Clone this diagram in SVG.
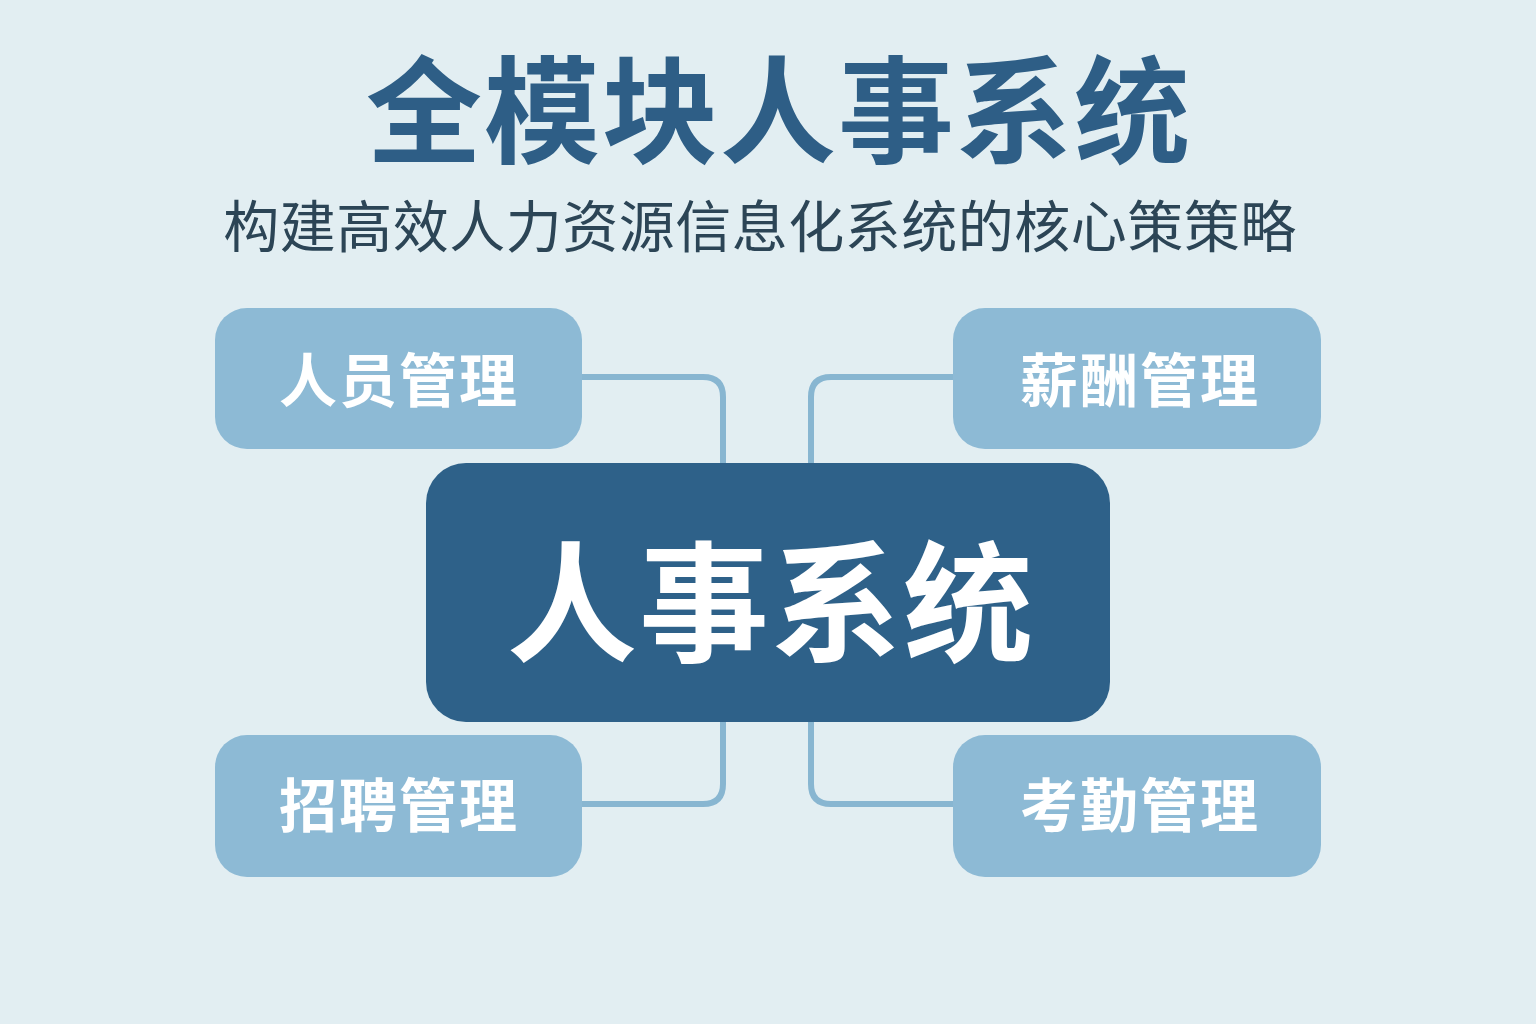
<svg xmlns="http://www.w3.org/2000/svg" width="1536" height="1024" viewBox="0 0 1536 1024">
  <style>
    .title { font-family: "Noto Sans CJK SC", "Noto Sans", sans-serif; font-weight: 700; fill: #2e5e86; }
    .subtitle { font-family: "Noto Sans CJK SC", "Noto Sans", sans-serif; font-weight: 400; fill: #2c4556; }
    .module rect { fill: #8dbad5; }
    .module text { font-family: "Noto Sans CJK SC", "Noto Sans", sans-serif; font-weight: 700; font-size: 58px; fill: #ffffff; letter-spacing: 2px; }
    .center rect { fill: #2e6189; }
    .center text { font-family: "Noto Sans CJK SC", "Noto Sans", sans-serif; font-weight: 700; font-size: 130px; fill: #ffffff; letter-spacing: 2px; }
    .conn { fill: none; stroke: #88b6d1; stroke-width: 6; stroke-linecap: butt; }
  </style>
  <rect x="0" y="0" width="1536" height="1024" fill="#e2eef2"/>

  <text class="title" x="779" y="103" font-size="116" text-anchor="middle" dominant-baseline="central" letter-spacing="2">全模块人事系统</text>
  <text class="subtitle" x="760" y="222" font-size="56" text-anchor="middle" dominant-baseline="central" letter-spacing="0.5">构建高效人力资源信息化系统的核心策策略</text>

  <g id="connectors">
    <path class="conn" d="M582,377 H703 Q723,377 723,397 V463"/>
    <path class="conn" d="M953,377 H831 Q811,377 811,397 V463"/>
    <path class="conn" d="M723,722 V784 Q723,804 703,804 H582"/>
    <path class="conn" d="M811,722 V784 Q811,804 831,804 H953"/>
  </g>

  <g id="node-center" class="center">
    <rect x="426" y="463" width="684" height="259" rx="40" ry="40"/>
    <text x="771" y="594" text-anchor="middle" dominant-baseline="central">人事系统</text>
  </g>

  <g id="node-personnel" class="module">
    <rect x="215" y="308" width="367" height="141" rx="32" ry="32"/>
    <text x="399" y="377" text-anchor="middle" dominant-baseline="central">人员管理</text>
  </g>

  <g id="node-salary" class="module">
    <rect x="953" y="308" width="368" height="141" rx="32" ry="32"/>
    <text x="1140" y="377" text-anchor="middle" dominant-baseline="central">薪酬管理</text>
  </g>

  <g id="node-recruit" class="module">
    <rect x="215" y="735" width="367" height="142" rx="32" ry="32"/>
    <text x="399" y="802" text-anchor="middle" dominant-baseline="central">招聘管理</text>
  </g>

  <g id="node-attendance" class="module">
    <rect x="953" y="735" width="368" height="142" rx="32" ry="32"/>
    <text x="1140" y="802" text-anchor="middle" dominant-baseline="central">考勤管理</text>
  </g>
</svg>
